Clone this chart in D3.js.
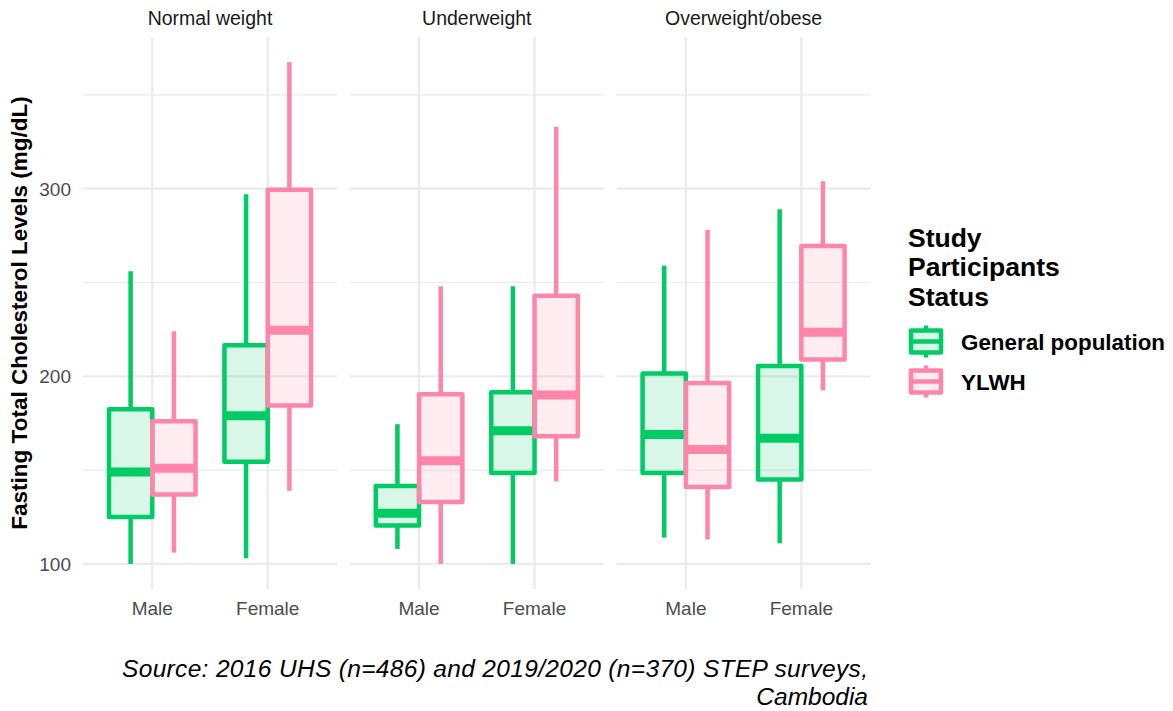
<!DOCTYPE html>
<html>
<head>
<meta charset="utf-8">
<script src="https://cdn.jsdelivr.net/npm/d3@7"></script>
<style>
  body { margin: 0; background: #fff; }
  text { font-family: "Liberation Sans", Arial, sans-serif; }
</style>
</head>
<body>
<div id="chart"></div>
<script>
// facets, x categories and series
const facets = ["Normal weight", "Underweight", "Overweight/obese"];
const sexes = ["Male", "Female"];
const groups = ["General population", "YLWH"];

// [lower whisker, Q1, median, Q3, upper whisker], facet by facet, Male then Female
const generalStats = [
    [100, 125, 149, 182.5, 256],
    [103, 154.5, 179, 216.5, 297],
    [108, 120.5, 127, 141.5, 174.5],
    [100, 148.5, 171, 191.5, 248],
    [114, 148.5, 169, 201.5, 259],
    [111, 145, 167, 205.5, 289]
];
const ylwhStats = [
    [106, 137, 151, 176, 224],
    [139, 184.5, 224.5, 299.5, 367.5],
    [100, 133, 155, 190.5, 248],
    [144, 168, 190, 243, 333],
    [113, 141, 161, 196.5, 278],
    [192.5, 209, 223.5, 269.5, 304]
];
const yTicks = [100, 200, 300];
const yMinor = [150, 250, 350];

const colors = { "General population": "#00cc66", "YLWH": "#ff85aa" };

const width = 1173, height = 711;
const panelTop = 37, panelBottom = 589;
const panelLeft = 83, panelW = 254, panelGap = 12.8;

const svg = d3.select("#chart").append("svg")
    .attr("width", width)
    .attr("height", height);

// flatten into rows
const rows = [];
facets.forEach((f, fi) => {
    sexes.forEach((s, si) => {
        groups.forEach((g, gi) => {
            const st = (gi === 0 ? generalStats : ylwhStats)[fi * 2 + si];
            rows.push({ facet: f, sex: s, group: g, lo: st[0], q1: st[1], med: st[2], q3: st[3], hi: st[4] });
        });
    });
});

// y scale with ggplot-like 5% expansion
const yMin = d3.min(rows, d => d.lo), yMax = d3.max(rows, d => d.hi);
const pad = (yMax - yMin) * 0.05;
const y = d3.scaleLinear()
    .domain([yMin - pad, yMax + pad])
    .range([panelBottom, panelTop]);

// facet position scale
const fx = d3.scaleBand()
    .domain(facets)
    .range([panelLeft, panelLeft + 3 * panelW + 2 * panelGap])
    .paddingInner(panelGap / (panelW + panelGap));

// x within a panel: categories at 1,2 with 0.6 expansion each side
const x = d3.scaleLinear().domain([0.4, 2.6]).range([0, panelW]);
const boxW = 0.375; // in category units
const dodge = d3.scaleOrdinal().domain(groups).range([-boxW / 2, boxW / 2]);

facets.forEach(f => {
    const g = svg.append("g").attr("transform", `translate(${fx(f)},0)`);

    // minor grid
    g.selectAll(".minor").data(yMinor).enter().append("line")
        .attr("x1", 0).attr("x2", panelW)
        .attr("y1", d => y(d)).attr("y2", d => y(d))
        .attr("stroke", "#ebebeb").attr("stroke-width", 1.1);
    // major grid
    g.selectAll(".major").data(yTicks).enter().append("line")
        .attr("x1", 0).attr("x2", panelW)
        .attr("y1", d => y(d)).attr("y2", d => y(d))
        .attr("stroke", "#ebebeb").attr("stroke-width", 2.2);
    g.selectAll(".vgrid").data(sexes).enter().append("line")
        .attr("x1", (d, i) => x(i + 1)).attr("x2", (d, i) => x(i + 1))
        .attr("y1", panelTop).attr("y2", panelBottom)
        .attr("stroke", "#ebebeb").attr("stroke-width", 2.2);

    // strip title
    g.append("text")
        .attr("x", panelW / 2).attr("y", 25)
        .attr("text-anchor", "middle")
        .attr("font-size", 19.5)
        .attr("fill", "#1a1a1a")
        .text(f);

    // x tick labels
    g.selectAll(".xlab").data(sexes).enter().append("text")
        .attr("x", (d, i) => x(i + 1)).attr("y", 615)
        .attr("text-anchor", "middle")
        .attr("font-size", 19)
        .attr("fill", "#4d4d4d")
        .text(d => d);

    // boxes
    const boxes = g.selectAll(".box")
        .data(rows.filter(d => d.facet === f))
        .enter().append("g");

    boxes.each(function(d) {
        const b = d3.select(this);
        const c = sexes.indexOf(d.sex) + 1 + dodge(d.group);
        const cx = x(c);
        const x0 = x(c - boxW / 2), x1 = x(c + boxW / 2);
        const col = colors[d.group];
        b.append("line")
            .attr("x1", cx).attr("x2", cx)
            .attr("y1", y(d.hi)).attr("y2", y(d.q3))
            .attr("stroke", col).attr("stroke-width", 4.5);
        b.append("line")
            .attr("x1", cx).attr("x2", cx)
            .attr("y1", y(d.q1)).attr("y2", y(d.lo))
            .attr("stroke", col).attr("stroke-width", 4.5);
        b.append("rect")
            .attr("x", x0).attr("y", y(d.q3))
            .attr("width", x1 - x0).attr("height", y(d.q1) - y(d.q3))
            .attr("fill", col).attr("fill-opacity", 0.15)
            .attr("stroke", col).attr("stroke-width", 4.5)
            .attr("stroke-linejoin", "round");
        b.append("line")
            .attr("x1", x0).attr("x2", x1)
            .attr("y1", y(d.med)).attr("y2", y(d.med))
            .attr("stroke", col).attr("stroke-width", 9);
    });
});

// y tick labels
svg.selectAll(".ylab").data(yTicks).enter().append("text")
    .attr("x", 71).attr("y", d => y(d))
    .attr("dy", "0.36em")
    .attr("text-anchor", "end")
    .attr("font-size", 19)
    .attr("fill", "#4d4d4d")
    .text(d => d);

// y axis title
svg.append("text")
    .attr("transform", `translate(27,${(panelTop + panelBottom) / 2}) rotate(-90)`)
    .attr("text-anchor", "middle")
    .attr("font-size", 22.5)
    .attr("font-weight", "bold")
    .attr("fill", "#000")
    .text("Fasting Total Cholesterol Levels (mg/dL)");

// legend
const legend = svg.append("g").attr("transform", "translate(908,0)");
["Study", "Participants", "Status"].forEach((t, i) => {
    legend.append("text")
        .attr("x", 0).attr("y", 247 + i * 29.3)
        .attr("font-size", 26.5)
        .attr("font-weight", "bold")
        .attr("fill", "#000")
        .text(t);
});
groups.forEach((grp, i) => {
    const cy = 341.5 + i * 40;
    const col = colors[grp];
    const k = legend.append("g").attr("transform", `translate(18,${cy})`);
    k.append("line").attr("x1", 0).attr("x2", 0).attr("y1", -16).attr("y2", 16)
        .attr("stroke", col).attr("stroke-width", 4.5);
    k.append("rect").attr("x", -15).attr("y", -11).attr("width", 30).attr("height", 22)
        .attr("fill", "#fff")
        .attr("stroke", col).attr("stroke-width", 4.5).attr("stroke-linejoin", "round");
    k.append("rect").attr("x", -15).attr("y", -11).attr("width", 30).attr("height", 22)
        .attr("fill", col).attr("fill-opacity", 0.15);
    k.append("line").attr("x1", -15).attr("x2", 15).attr("y1", 0).attr("y2", 0)
        .attr("stroke", col).attr("stroke-width", 4.5);
    legend.append("text")
        .attr("x", 53).attr("y", cy + 8)
        .attr("font-size", 22.4)
        .attr("font-weight", "bold")
        .attr("fill", "#000")
        .text(grp);
});

// caption
const cap = svg.append("text")
    .attr("text-anchor", "end")
    .attr("font-size", 24.5)
    .attr("font-style", "italic")
    .attr("fill", "#000");
cap.append("tspan").attr("x", 868).attr("y", 677)
    .attr("textLength", 746).attr("lengthAdjust", "spacing")
    .text("Source: 2016 UHS (n=486) and 2019/2020 (n=370) STEP surveys,");
cap.append("tspan").attr("x", 868).attr("y", 705)
    .text("Cambodia");
</script>
</body>
</html>
